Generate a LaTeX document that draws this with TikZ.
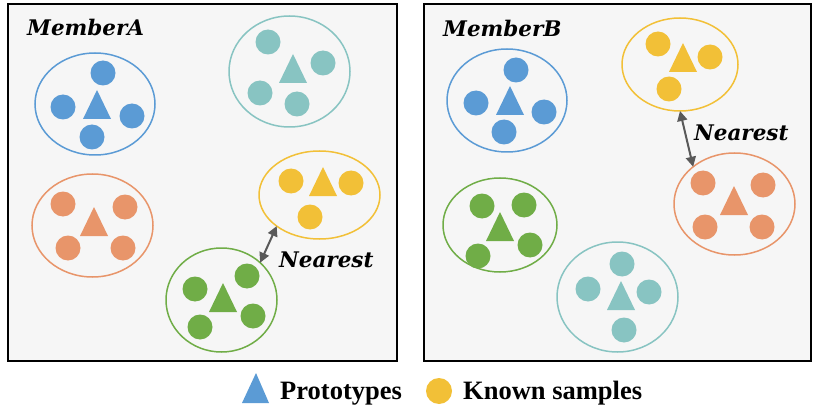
\documentclass[tikz,border=0pt]{standalone}
\usepackage{fontspec}
\setmainfont{Liberation Serif}
\newfontfamily\lblfont{DejaVu Serif}
\usetikzlibrary{shapes.geometric,arrows.meta}
\definecolor{cblue}{HTML}{5B9BD5}
\definecolor{cteal}{HTML}{88C4C2}
\definecolor{corange}{HTML}{E8956A}
\definecolor{cyellow}{HTML}{F2C037}
\definecolor{cgreen}{HTML}{70AD47}
\definecolor{panelbg}{HTML}{F6F6F6}
\definecolor{arrowgray}{HTML}{595959}
\tikzset{
  panel/.style={draw=black, line width=2pt, fill=panelbg},
  clus/.style={ellipse, draw=#1, line width=1.5pt, inner sep=0pt, outer sep=0pt},
  sample/.style={circle, fill=#1, inner sep=0pt, minimum size=25pt},
  lbl/.style={font=\lblfont\bfseries\itshape\fontsize{21.5}{25}\selectfont, inner sep=0pt, anchor=west},
  legtext/.style={font=\bfseries\fontsize{26.5}{30}\selectfont, inner sep=0pt, anchor=base west},
  nearest/.style={{Triangle[length=10pt,width=10pt]}-{Triangle[length=10pt,width=10pt]}, draw=arrowgray, line width=2pt}
}
\newcommand\proto[3]{\fill[#1] (#2,#3) -- ++(-14,29) -- ++(28,0) -- cycle;}
% \cluster{name}{color}{cx}{cy}{w}{h}{apex x}{apex y}{circle list}
\newcommand\cluster[9]{%
  \node[clus=#2, minimum width=#5pt, minimum height=#6pt] (#1) at (#3,#4) {};
  \proto{#2}{#7}{#8}
  \foreach \px/\py [count=\k] in {#9} {\node[sample=#2] (#1c\k) at (\px,\py) {};}
}
\begin{document}
\begin{tikzpicture}[x=1pt,y=-1pt]
\useasboundingbox (0,0) rectangle (814,409);
\draw[panel] (8,4) rectangle (397,361);
\draw[panel] (424,4) rectangle (811,361);
% Member A
\node[lbl] (labA) at (27,27) {MemberA};
\cluster{Ablue}{cblue}{95}{104}{120}{102}{97}{90}{103/73,63/107,132/116,92/137}
\cluster{Ateal}{cteal}{289.5}{71.5}{121}{111}{293}{54}{268/42,323/63,260/93,297/104}
\cluster{Aorange}{corange}{92.5}{225.5}{121}{103}{94}{207}{63/204,125/207,68/248,123/248}
\cluster{Ayellow}{cyellow}{319.5}{195}{121}{88}{323}{167}{291/181,351/183,310/217}
\cluster{Agreen}{cgreen}{221.5}{300}{111}{104}{223}{283}{195/289,247/276,253/316,200/327}
\draw[nearest] (Ayellow.216) -- (Agreen.44);
\node[lbl] (nearA) at (279,260) {Nearest};
% Member B
\node[lbl] (labB) at (443,28) {MemberB};
\cluster{Bblue}{cblue}{507}{100.5}{120}{103}{510}{86}{516/70,476/103,544/112,504/132}
\cluster{Byellow}{cyellow}{680}{64.5}{116}{93}{683}{43}{658/44,710/57,669/89}
\cluster{Borange}{corange}{734.5}{204}{121}{102}{734}{186}{703/183,763/185,705/227,762/227}
\cluster{Bgreen}{cgreen}{500}{225}{114}{94}{500}{212}{482/206,524/205,530/245,478/256}
\cluster{Bteal}{cteal}{617.5}{297}{121}{110}{621}{281}{622/264,588/289,649/292,624/330}
\draw[nearest] (Byellow.270) -- (Borange.138);
\node[lbl] (nearB) at (694,133) {Nearest};
% Legend
\fill[cblue] (256,373) -- (242,403) -- (269,403) -- cycle;
\node[legtext] (legP) at (280,399) {Prototypes};
\node[sample=cyellow, minimum size=26pt] (legC) at (439,391) {};
\node[legtext] (legK) at (463,399) {Known samples};
\end{tikzpicture}
\end{document}
